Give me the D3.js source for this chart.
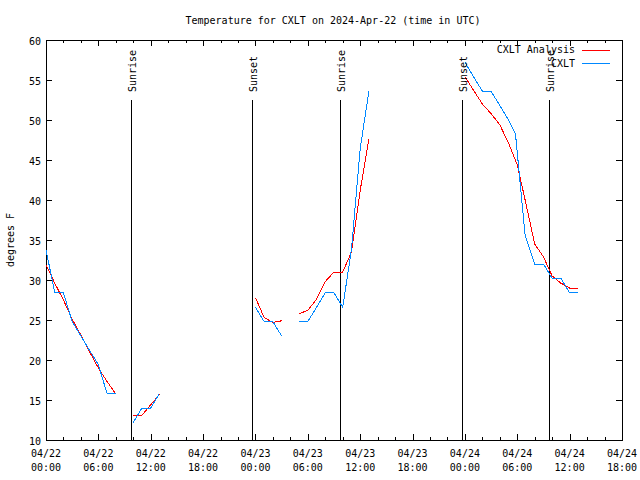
<!DOCTYPE html>
<html><head><meta charset="utf-8">
<script src="https://cdn.jsdelivr.net/npm/d3@7"></script>
<style>
body{margin:0;background:#fff;}
text{font-family:"DejaVu Sans Mono","Liberation Mono",monospace;font-size:10px;fill:#000;}
</style></head>
<body>
<svg id="c" width="640" height="480"></svg>
<script>
// hours since 2024-04-22 00:00 UTC
const analysisHour = [0,1,2,3,4,5,6,7,8, 9, 10,11,12,13, 14, 24,25,26,27, 28, 29,30,31,32,33,34,35,36,37, 38, 48,49,50,51,52,53,54,55,56,57,58,59,60,61];
const analysisTemp = [31.9,29.6,27.5,25.1,23.1,21.0,19.0,17.3,15.75, null, 13.1,13.1,14.4,15.7, null, 27.8,25.3,24.7,24.9, null, 25.8,26.2,27.6,29.8,31.0,31.0,33.5,41.2,47.6, null, 55.4,53.7,52.0,50.8,49.4,47.1,44.4,39.5,34.5,32.9,30.5,29.6,29.0,29.0];
const obsHour = [0,1,2,3,4,5,6,7,8, 9, 10,11,12,13, 14, 24,25,26,27, 28, 29,30,31,32,33,34,35,36,37, 38, 48,49,50,51,52,53,53.8,54.9,56,57,58,59,60,61];
const obsTemp = [33.8,28.4,28.4,24.8,23.0,21.2,19.4,15.8,15.8, null, 12.2,14.0,14.0,15.8, null, 26.6,24.8,24.8,23.0, null, 24.8,24.8,26.6,28.4,28.4,26.6,33.8,46.4,53.6, null, 57.2,55.4,53.6,53.6,51.8,50.0,48.2,35.6,32.0,32.0,30.2,30.2,28.4,28.4];
const sunEvents = ["Sunrise","Sunset","Sunrise","Sunset","Sunrise"];
const sunTimes = ["2024-04-22T09:44Z","2024-04-22T23:36Z","2024-04-23T09:41Z","2024-04-23T23:40Z","2024-04-24T09:38Z"];
const yTicks = [10,15,20,25,30,35,40,45,50,55,60];
const seriesNames = ["CXLT Analysis","CXLT"];
const seriesColors = ["#ff0000","#0088ff"];
const title = "Temperature for CXLT on 2024-Apr-22 (time in UTC)";
const yLabel = "degrees F";

const t0 = Date.UTC(2024,3,22,0);
const H = 3600e3;
const L=46, R=622, T=40, B=440;
const svg = d3.select("#c");
svg.append("rect").attr("width",640).attr("height",480).attr("fill","#fff");

const x = d3.scaleUtc().domain([new Date(t0), new Date(t0+66*H)]).range([L,R]);
const y = d3.scaleLinear().domain([10,60]).range([B,T]);

const g = svg.append("g").attr("shape-rendering","crispEdges");
// ticks
const minor = d3.utcHour.every(2).range(new Date(t0), new Date(t0+66*H+1));
minor.forEach(d=>{
  const isMajor = d.getUTCHours()%6===0;
  const len = isMajor?6:3;
  const xx = Math.round(x(d))+0.5;
  g.append("line").attr("x1",xx).attr("x2",xx).attr("y1",B).attr("y2",B-len).attr("stroke","#000");
  g.append("line").attr("x1",xx).attr("x2",xx).attr("y1",T).attr("y2",T+len).attr("stroke","#000");
});
yTicks.forEach(v=>{
  const yy = Math.round(y(v))+0.5;
  g.append("line").attr("x1",L).attr("x2",L+6).attr("y1",yy).attr("y2",yy).attr("stroke","#000");
  g.append("line").attr("x1",R).attr("x2",R-6).attr("y1",yy).attr("y2",yy).attr("stroke","#000");
  svg.append("text").attr("x",L-5).attr("y",yy+4).attr("text-anchor","end").text(v);
});
// x labels
const fmtD = d3.utcFormat("%m/%d"), fmtT = d3.utcFormat("%H:%M");
d3.utcHour.every(6).range(new Date(t0), new Date(t0+66*H+1)).forEach(d=>{
  const xx = x(d);
  svg.append("text").attr("x",xx).attr("y",457).attr("text-anchor","middle").text(fmtD(d));
  svg.append("text").attr("x",xx).attr("y",471).attr("text-anchor","middle").text(fmtT(d));
});
// frame
g.append("rect").attr("x",L+0.5).attr("y",T+0.5).attr("width",R-L).attr("height",B-T).attr("fill","none").attr("stroke","#000");

// sun lines
sunTimes.forEach((s,i)=>{
  const xx = Math.round(x(new Date(s)))+0.5;
  g.append("line").attr("x1",xx).attr("x2",xx).attr("y1",100).attr("y2",B).attr("stroke","#000");
  svg.append("text").attr("transform",`translate(${xx+4},92) rotate(-90)`).attr("text-anchor","start").text(sunEvents[i]);
});

// series
const line = d3.line().defined(d=>d[1]!==null).x(d=>x(new Date(t0+d[0]*H))).y(d=>y(d[1]));
const aData = analysisHour.map((h,i)=>[h,analysisTemp[i]]);
const oData = obsHour.map((h,i)=>[h,obsTemp[i]]);
g.append("path").attr("d",line(aData)).attr("fill","none").attr("stroke",seriesColors[0]).attr("stroke-width",1);
g.append("path").attr("d",line(oData)).attr("fill","none").attr("stroke",seriesColors[1]).attr("stroke-width",1);

// legend
seriesNames.forEach((n,i)=>{
  const yy = 49.5 + i*13.5;
  svg.append("text").attr("x",575).attr("y",yy+3.5).attr("text-anchor","end").text(n);
  g.append("line").attr("x1",582).attr("x2",610).attr("y1",Math.round(yy)+0.5).attr("y2",Math.round(yy)+0.5).attr("stroke",seriesColors[i]);
});

svg.append("text").attr("x",333).attr("y",24).attr("text-anchor","middle").text(title);
svg.append("text").attr("transform","translate(14,240) rotate(-90)").attr("text-anchor","middle").text(yLabel);
</script>
</body></html>
